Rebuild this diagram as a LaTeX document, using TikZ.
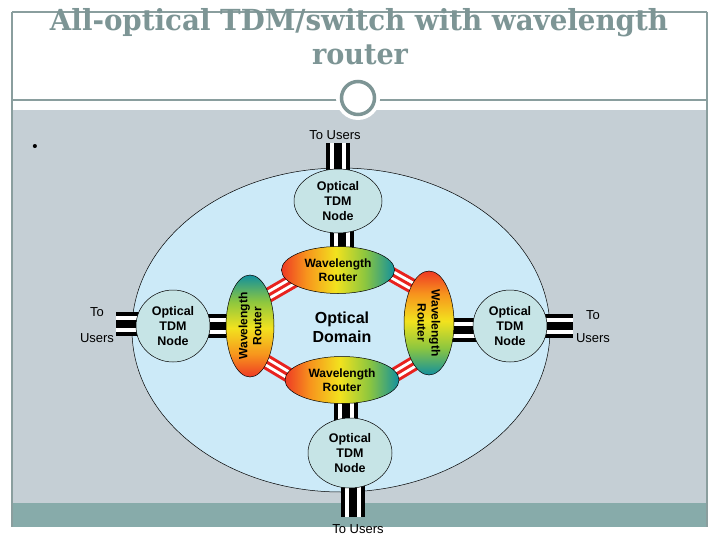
\documentclass[tikz,border=0pt]{standalone}
\usepackage{fontspec}
\usepackage{graphicx}
\setmainfont{Liberation Sans}
\newfontfamily\titlefont{DejaVu Serif}
\usetikzlibrary{shapes.geometric}
\definecolor{slidegray}{HTML}{C5CFD5}
\definecolor{bandteal}{HTML}{87ABAA}
\definecolor{framegray}{HTML}{8A9E9E}
\definecolor{titlecol}{HTML}{7D9595}
\definecolor{domainblue}{HTML}{CCEAF8}
\definecolor{tdmfill}{HTML}{C6E4E6}
\definecolor{linkred}{HTML}{E8221E}
\definecolor{wlred}{HTML}{EE3A24}
\definecolor{wlorange}{HTML}{F7941D}
\definecolor{wlyellow}{HTML}{F2E21E}
\definecolor{wlgreen}{HTML}{8CC63F}
\definecolor{wlteal}{HTML}{12909E}
\pgfdeclarehorizontalshading{wlr}{100bp}{color(0bp)=(wlred); color(25bp)=(wlred); color(36bp)=(wlorange); color(49bp)=(wlyellow); color(62bp)=(wlgreen); color(75bp)=(wlteal); color(100bp)=(wlteal)}
\pgfdeclarelayer{back}
\pgfdeclarelayer{mid}
\pgfsetlayers{back,mid,main}
\begin{document}
\begin{tikzpicture}[x=1pt,y=-1pt,
  tdm/.style={ellipse, draw=black, line width=0.5pt, fill=tdmfill, inner sep=0pt, align=center, font=\bfseries\fontsize{12.5pt}{15pt}\selectfont},
  router/.style={ellipse, draw=black, line width=0.5pt, shade, shading=wlr, inner sep=0pt, align=center, font=\bfseries\fontsize{12pt}{14pt}\selectfont},
  users/.style={font=\fontsize{13pt}{15pt}\selectfont, inner sep=0pt},
  bars/.style={draw=black, line width=24pt, postaction={draw=white, line width=16pt}, postaction={draw=black, line width=8pt}},
  rlink/.style={draw=linkred, line width=15pt, postaction={draw=white, line width=9pt}, postaction={draw=linkred, line width=3pt}},
  ttl/.style={text=titlecol, inner sep=0pt, anchor=base, font=\titlefont\bfseries\fontsize{29pt}{34pt}\selectfont}]
\useasboundingbox (0,0) rectangle (720,540);
\begin{pgfonlayer}{back}
\fill[white] (0,0) rectangle (720,540);
\fill[slidegray] (12,110) rectangle (707,503);
\fill[bandteal] (12,503) rectangle (707,527);
\draw[framegray, line width=1.2pt] (12,12) -- (707,12) (12,12) -- (12,527) (707,12) -- (707,527) (12,100) -- (707,100);
\fill[white] (358,98) circle[radius=22pt];
\draw[titlecol, line width=3.5pt] (358,98) circle[radius=16.5pt];
\node[ellipse, draw=black, line width=0.5pt, fill=domainblue, minimum width=418pt, minimum height=324pt] (domain) at (341,330) {};
\end{pgfonlayer}

\node[ttl] (title1) at (359,31) {\resizebox{618pt}{\height}{All-optical TDM/switch with wavelength}};
\node[ttl] (title2) at (360,65) {\resizebox{96pt}{\height}{router}};
\node[inner sep=0pt, font=\fontsize{15pt}{16pt}\selectfont] (bullet) at (35,148) {\textbullet};

\node[tdm, minimum width=88pt, minimum height=64pt] (tdmT) at (338,201) {Optical\\TDM\\Node};
\node[tdm, minimum width=74pt, minimum height=72pt] (tdmL) at (173,326) {Optical\\TDM\\Node};
\node[tdm, minimum width=74pt, minimum height=72pt] (tdmR) at (510,326) {Optical\\TDM\\Node};
\node[tdm, minimum width=84pt, minimum height=70pt] (tdmB) at (350,453) {Optical\\TDM\\Node};

\node[router, minimum width=113pt, minimum height=47pt] (wrT) at (338,270) {Wavelength\\Router};
\node[router, shading angle=90, minimum width=102pt, minimum height=48pt, rotate=90] (wrL) at (250,326) {Wavelength\\Router};
\node[router, shading angle=-90, minimum width=104pt, minimum height=50pt, rotate=-90] (wrR) at (429,323) {Wavelength\\Router};
\node[router, minimum width=114pt, minimum height=47pt] (wrB) at (342,380) {Wavelength\\Router};

\node[inner sep=0pt, align=center, font=\bfseries\fontsize{16pt}{19pt}\selectfont] (dom) at (342,327) {Optical\\Domain};

\node[users] (lblT) at (335,135) {To Users};
\node[users] (lblL1) at (97,312) {To};
\node[users] (lblL2) at (97,338) {Users};
\node[users] (lblR1) at (593,315) {To};
\node[users] (lblR2) at (593,338) {Users};
\node[users] (lblB) at (358,529) {To Users};

\coordinate (uT) at (337.5,143);
\coordinate (uL) at (116,324);
\coordinate (uR) at (573,325);
\coordinate (uB) at (352.5,517);

\begin{pgfonlayer}{mid}
\draw[bars] (uT) -- (uT |- tdmT.center);
\draw[bars] ([xshift=4pt]tdmT.center) -- ([xshift=4pt]tdmT.center |- wrT.center);
\draw[bars] (uL) -- (uL -| tdmL.center);
\draw[bars] (tdmL.center) -- (tdmL.center -| wrL.center);
\draw[bars] ([yshift=-4pt]tdmR.center) -- ([yshift=-4pt]tdmR.center -| wrR.center);
\draw[bars] (tdmR.center) -- (tdmR.center -| uR);
\draw[bars] ([xshift=-4pt]tdmB.center) -- ([xshift=-4pt]tdmB.center |- wrB.center);
\draw[bars] (tdmB.center -| uB) -- (uB);
\draw[rlink] ([shift={(-33,4)}]wrT.center) -- ([shift={(5,-23)}]wrL.center);
\draw[rlink] ([shift={(37,-5)}]wrT.center) -- ([shift={(-1,-28)}]wrR.center);
\draw[rlink] ([shift={(5,29)}]wrL.center) -- ([shift={(-37,5)}]wrB.center);
\draw[rlink] ([shift={(36,5)}]wrB.center) -- ([shift={(-1,32)}]wrR.center);
\end{pgfonlayer}
\end{tikzpicture}
\end{document}
